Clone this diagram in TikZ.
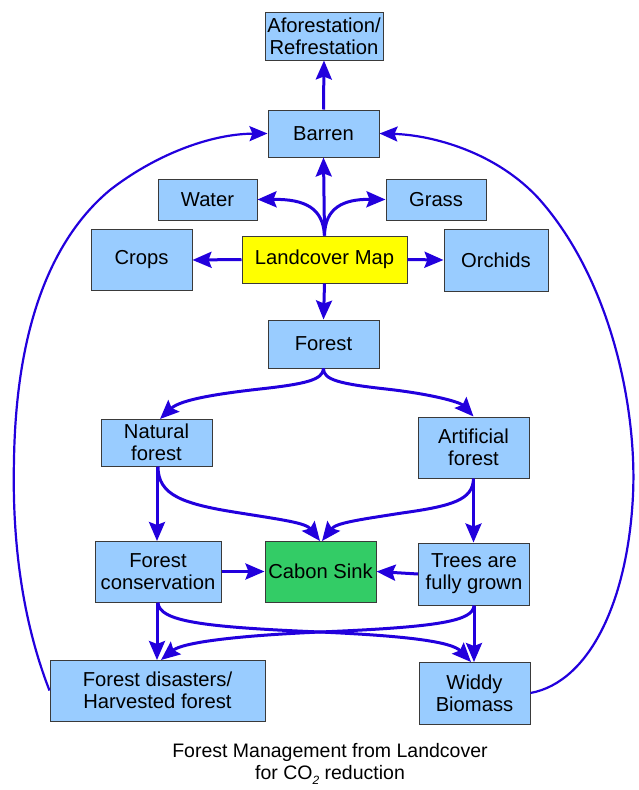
\documentclass[tikz,border=0pt]{standalone}
\usepackage{fontspec}
\setmainfont{Liberation Sans}
\usetikzlibrary{arrows.meta}
\definecolor{boxblue}{HTML}{99CCFF}
\definecolor{boxyellow}{HTML}{FFFF00}
\definecolor{boxgreen}{HTML}{33CC66}
\definecolor{arrblue}{HTML}{2200DD}
\definecolor{edge}{HTML}{3A3A3A}
\begin{document}
\begin{tikzpicture}[x=1pt,y=-1pt,
  box/.style={draw=edge, line width=1pt, fill=boxblue, align=center, inner sep=1pt,
    font=\fontsize{20.2}{22}\selectfont},
  arr/.style={draw=arrblue, line width=3pt, -{Stealth[length=19pt,width=16pt,inset=3pt]}},
  loop/.style={draw=arrblue, line width=2.2pt, -{Stealth[length=18pt,width=15pt,inset=3pt]}}]
\useasboundingbox (0,0) rectangle (638,790);
\node[box, minimum width=118pt, minimum height=48pt] (afo) at (324,36) {Aforestation/\\Refrestation};
\node[box, minimum width=111pt, minimum height=47pt] (bar) at (323.5,133.5) {Barren};
\node[box, minimum width=99pt, minimum height=41pt] (wat) at (207.5,199.5) {Water};
\node[box, minimum width=100pt, minimum height=41pt] (gra) at (436,199.5) {Grass};
\node[box, minimum width=101pt, minimum height=61pt] (cro) at (141.5,260) {Crops};
\node[box, fill=boxyellow, minimum width=165pt, minimum height=47pt] (lan) at (324.5,259.5) {Landcover Map};
\node[box, minimum width=104pt, minimum height=62pt] (orc) at (496,260) {Orchids};
\node[box, minimum width=111pt, minimum height=48pt] (for) at (323.5,344) {Forest};
\node[box, minimum width=111pt, minimum height=47pt] (nat) at (156.5,442.5) {Natural\\forest};
\node[box, minimum width=111pt, minimum height=61pt] (art) at (473.5,447.5) {Artificial\\forest};
\node[box, minimum width=126pt, minimum height=61pt] (con) at (158,571.5) {Forest\\conservation};
\node[box, fill=boxgreen, minimum width=111pt, minimum height=61pt] (sink) at (320.5,571.5) {Cabon Sink};
\node[box, minimum width=111pt, minimum height=62pt] (tre) at (474,574) {Trees are\\fully grown};
\node[box, minimum width=215pt, minimum height=61pt] (dis) at (157.5,690.5) {Forest disasters/\\Harvested forest};
\node[box, minimum width=111pt, minimum height=62pt] (wid) at (474.5,693) {Widdy\\Biomass};
\node[align=center, font=\fontsize{19.5}{22}\selectfont] (cap) at (330,764)
  {Forest Management from Landcover\\for CO\raisebox{-0.45ex}{\fontsize{12}{12}\selectfont\itshape 2} reduction};
% top section
\draw[arr] (bar.north) -- (afo.south);
\draw[arr] (lan.north) -- (bar.south);
\draw[arr] (lan.north) .. controls (323,208) and (305,199) .. (wat.east);
\draw[arr] (lan.north) .. controls (325,208) and (343,199) .. (gra.west);
\draw[arr] (lan.west) -- (cro.east);
\draw[arr] (lan.east) -- (orc.west);
\draw[arr] (lan.south) -- (for.north);
% forest split
\draw[arr] (for.south) .. controls (323,380) and (305,384) .. (260,389) .. controls (215,394) and (180,400) .. (160,419);
\draw[arr] (for.south) .. controls (323,380) and (341,384) .. (386,389) .. controls (431,394) and (460,402) .. (art.north);
% to cabon sink
\draw[arr] (nat.south -| 157,0) -- (157,541);
\draw[arr] (nat.south -| 158,0) .. controls (158,495) and (182,504) .. (240,513) .. controls (284,520) and (306,523) .. (320,541);
\draw[arr] (art.south) -- (art.south |- tre.north);
\draw[arr] (art.south) .. controls (473,500) and (452,506) .. (402,513) .. controls (357,520) and (336,523) .. (322,541);
\draw[arr] (con.east) -- (sink.west);
\draw[arr] (tre.west) -- (sink.east);
% lower
\draw[arr] (con.south -| 157,0) -- (157,660);
\draw[arr] (tre.south -| 474,0) -- (474,662);
\draw[arr] (con.south) .. controls (159,621) and (200,627) .. (320,632) .. controls (410,636) and (452,642) .. (471,662);
\draw[arr] (tre.south) .. controls (473,621) and (440,627) .. (320,632) .. controls (230,636) and (182,643) .. (161,660);
% big loops
\draw[loop] (dis.west) .. controls (22,620) and (12,540) .. (14,460) .. controls (16,330) and (50,240) .. (110,190) .. controls (155,155) and (210,134) .. (bar.west);
\draw[loop] (wid.east) .. controls (590,682) and (628,600) .. (633,495) .. controls (637,410) and (612,282) .. (540,200) .. controls (497,152) and (432,135) .. (bar.east);
\end{tikzpicture}
\end{document}
